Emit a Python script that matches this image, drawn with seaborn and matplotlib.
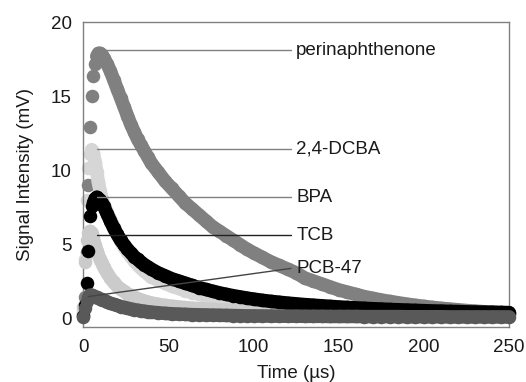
import matplotlib
matplotlib.use("Agg")
import matplotlib.pyplot as plt
import pandas as pd
import seaborn as sns

# time grid (µs)
time_us = [0, 1, 2, 3, 4, 5, 6, 7, 8, 9, 10, 11, 12,
           14, 16, 18, 20, 22, 24, 26, 28, 30, 32, 34, 36, 38, 40,
           44, 48, 52, 56, 60, 64, 68, 72, 76, 80, 84, 88, 92, 96, 100,
           105, 110, 115, 120, 125, 130, 135, 140, 145, 150, 155, 160, 165,
           170, 175, 180, 185, 190, 195, 200, 205, 210, 215, 220, 225, 230,
           235, 240, 245, 250]

# signal intensity (mV) per compound
perinaphthenone = [0.3, 1.5, 4.5, 9.0, 12.9, 15.0, 16.4, 17.2, 17.7, 17.9, 17.9, 17.8, 17.6,
                   17.2, 16.7, 16.1, 15.5, 14.9, 14.3, 13.7, 13.1, 12.6, 12.1, 11.7, 11.3, 10.9, 10.5,
                   9.9, 9.3, 8.8, 8.3, 7.8, 7.4, 7.0, 6.6, 6.2, 5.9, 5.6, 5.3, 5.0, 4.7, 4.45,
                   4.15, 3.85, 3.6, 3.35, 3.1, 2.75, 2.55, 2.35, 2.15, 1.95, 1.8, 1.65, 1.5,
                   1.38, 1.27, 1.17, 1.08, 0.99, 0.91, 0.84, 0.77, 0.71, 0.66, 0.61, 0.56, 0.52,
                   0.48, 0.45, 0.42, 0.4]
dcba = [0.6, 4.0, 8.0, 10.2, 11.1, 11.4, 11.2, 10.6, 9.9, 9.2, 8.6, 8.1, 7.7,
        7.2, 6.7, 6.2, 5.7, 5.25, 4.85, 4.5, 4.2, 3.9, 3.65, 3.4, 3.2, 3.0, 2.85,
        2.6, 2.4, 2.2, 2.05, 1.9, 1.77, 1.65, 1.54, 1.44, 1.35, 1.27, 1.2, 1.13, 1.07, 1.02,
        0.96, 0.91, 0.86, 0.82, 0.78, 0.74, 0.71, 0.68, 0.65, 0.62, 0.6, 0.58, 0.56,
        0.54, 0.52, 0.5, 0.49, 0.47, 0.46, 0.45, 0.44, 0.43, 0.42, 0.41, 0.4, 0.39,
        0.38, 0.37, 0.36, 0.35]
bpa = [0.2, 0.9, 2.4, 4.6, 6.9, 7.6, 7.9, 8.1, 8.2, 8.1, 8.0, 7.8, 7.6,
       7.1, 6.6, 6.1, 5.7, 5.3, 5.0, 4.7, 4.45, 4.2, 4.0, 3.8, 3.65, 3.5, 3.35,
       3.1, 2.9, 2.7, 2.55, 2.4, 2.25, 2.1, 1.98, 1.86, 1.75, 1.65, 1.56, 1.48, 1.4, 1.33,
       1.25, 1.18, 1.12, 1.06, 1.01, 0.96, 0.92, 0.88, 0.84, 0.8, 0.77, 0.74, 0.71,
       0.68, 0.66, 0.63, 0.61, 0.59, 0.57, 0.55, 0.53, 0.52, 0.5, 0.49, 0.47, 0.46,
       0.45, 0.44, 0.43, 0.42]
tcb = [0.8, 3.8, 5.3, 5.8, 5.9, 5.8, 5.4, 5.0, 4.6, 4.3, 4.0, 3.75, 3.5,
       3.1, 2.75, 2.45, 2.2, 2.0, 1.85, 1.7, 1.57, 1.46, 1.36, 1.28, 1.2, 1.13, 1.07,
       0.98, 0.91, 0.85, 0.8, 0.76, 0.72, 0.69, 0.66, 0.63, 0.61, 0.59, 0.57, 0.55, 0.53, 0.52,
       0.5, 0.48, 0.47, 0.46, 0.45, 0.44, 0.43, 0.42, 0.41, 0.4, 0.4, 0.39, 0.39,
       0.38, 0.38, 0.37, 0.37, 0.36, 0.36, 0.35, 0.35, 0.35, 0.34, 0.34, 0.34, 0.33,
       0.33, 0.33, 0.32, 0.32]
pcb47 = [0.1, 0.7, 1.2, 1.45, 1.6, 1.6, 1.55, 1.5, 1.45, 1.4, 1.35, 1.3, 1.25,
         1.15, 1.05, 0.97, 0.9, 0.83, 0.77, 0.72, 0.67, 0.62, 0.58, 0.54, 0.51, 0.48, 0.45,
         0.41, 0.37, 0.34, 0.32, 0.3, 0.28, 0.27, 0.26, 0.25, 0.24, 0.23, 0.22, 0.21, 0.2, 0.2,
         0.19, 0.19, 0.18, 0.18, 0.18, 0.17, 0.17, 0.17, 0.16, 0.16, 0.16, 0.16, 0.15,
         0.15, 0.15, 0.15, 0.15, 0.14, 0.14, 0.14, 0.14, 0.14, 0.13, 0.13, 0.13, 0.13,
         0.13, 0.13, 0.13, 0.13]

# name, values, dot colour, index of peak (decay drawn as a solid band from there),
# callout line start, callout line end y, callout line colour
series = [
    ("perinaphthenone", perinaphthenone, "#808080", 8, (8, 18.1), 18.1, "#808080"),
    ("2,4-DCBA", dcba, "#d6d6d6", 5, (8, 11.45), 11.45, "#808080"),
    ("TCB", tcb, "#cbcbcb", 4, (8, 5.65), 5.65, "#222222"),
    ("BPA", bpa, "#000000", 7, (8, 8.2), 8.2, "#808080"),
    ("PCB-47", pcb47, "#595959", 4, (3, 1.5), 3.4, "#444444"),
]

sns.set_theme(style="white")
plt.rcParams["font.family"] = ["Liberation Sans", "DejaVu Sans"]

fig = plt.figure(figsize=(5.26, 3.82), dpi=100)
ax = fig.add_axes([0.158, 0.144, 0.810, 0.798])

DOT = 95  # marker area, pt^2
for i, (name, vals, color, peak, start, end_y, line_color) in enumerate(series):
    df = pd.DataFrame({"t": time_us, "y": vals})
    # dense sampling in the original -> continuous band after the peak
    sns.lineplot(data=df.iloc[peak:], x="t", y="y", color=color, lw=DOT ** 0.5,
                 estimator=None, sort=False, ax=ax, clip_on=False, zorder=1 + i,
                 solid_capstyle="round", solid_joinstyle="round")
    sns.scatterplot(data=df, x="t", y="y", color=color, s=DOT, linewidth=0,
                    ax=ax, clip_on=False, legend=False, zorder=1 + i)
    ax.plot([start[0], 122], [start[1], end_y], color=line_color, lw=1.0, zorder=10)
    ax.text(125, end_y, name, fontsize=13.5, va="center", ha="left",
            color="#1a1a1a", zorder=11)

ax.set_xlim(0, 250)
ax.set_ylim(-0.55, 20)
ax.set_xticks([0, 50, 100, 150, 200, 250])
ax.set_yticks([0, 5, 10, 15, 20])
ax.tick_params(axis="both", direction="in", length=4, width=1, color="#808080",
               labelsize=13.5, labelcolor="#1a1a1a", pad=8)
ax.tick_params(axis="x", pad=9)
for sp in ax.spines.values():
    sp.set_color("#808080")
    sp.set_linewidth(1.0)
ax.set_xlabel("Time (µs)", fontsize=13.5, color="#1a1a1a", labelpad=6)
ax.set_ylabel("Signal Intensity (mV)", fontsize=13.5, color="#1a1a1a", labelpad=12)

fig.savefig("out.png", dpi=100)
